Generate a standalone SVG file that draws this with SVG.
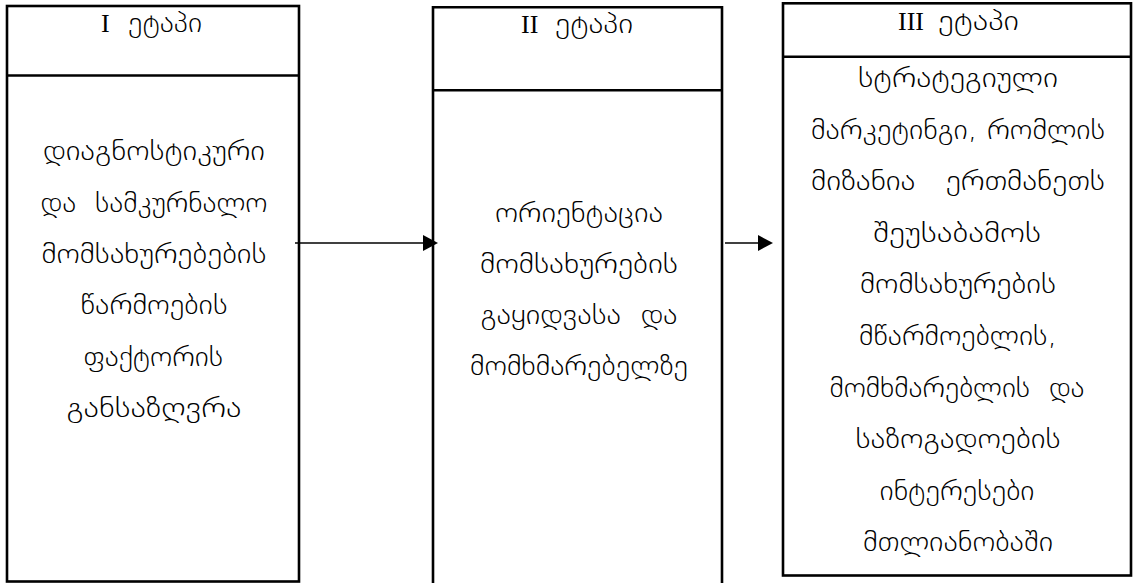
<svg xmlns="http://www.w3.org/2000/svg" width="1136" height="583" viewBox="0 0 1136 583">
<style>
.box{fill:none;stroke:#000;stroke-width:2.6}
.div{stroke:#000;stroke-width:2.6}
.t{font-family:"DejaVu Sans",sans-serif;font-size:28px;font-weight:200;fill:#000;text-anchor:middle}
.h{font-family:"DejaVu Sans",sans-serif;font-size:28px;font-weight:200;fill:#000}
.r{font-family:"Liberation Serif","Times New Roman",serif;font-size:26px;fill:#000}
.conn{stroke:#000;stroke-width:1.6;fill:none}
.head{fill:#000}
</style>
<rect width="1136" height="583" fill="#fff"/>
<g id="stage1">
<rect class="box" x="7" y="6" width="292" height="575.5"/>
<line class="div" x1="7" y1="75.5" x2="299" y2="75.5"/>
<text class="r" x="101" y="32">I</text>
<text class="h" x="128" y="32" textLength="74" lengthAdjust="spacingAndGlyphs">ეტაპი</text>
<text class="t" x="154" y="160" textLength="222" lengthAdjust="spacingAndGlyphs">დიაგნოსტიკური</text>
<text class="t" x="154" y="211.5" textLength="227" lengthAdjust="spacingAndGlyphs" xml:space="preserve">და  სამკურნალო</text>
<text class="t" x="154" y="263" textLength="225" lengthAdjust="spacingAndGlyphs">მომსახურებების</text>
<text class="t" x="154" y="314" textLength="147" lengthAdjust="spacingAndGlyphs">წარმოების</text>
<text class="t" x="153" y="365.5" textLength="140" lengthAdjust="spacingAndGlyphs">ფაქტორის</text>
<text class="t" x="154" y="417" textLength="175" lengthAdjust="spacingAndGlyphs">განსაზღვრა</text>
</g>
<g id="stage2">
<polyline class="box" points="433,590 433,7.3 722,7.3 722,590"/>
<line class="div" x1="433" y1="90.3" x2="722" y2="90.3"/>
<text class="r" x="521" y="33">II</text>
<text class="h" x="555" y="33" textLength="78" lengthAdjust="spacingAndGlyphs">ეტაპი</text>
<text class="t" x="579" y="222" textLength="168" lengthAdjust="spacingAndGlyphs">ორიენტაცია</text>
<text class="t" x="579" y="273" textLength="198" lengthAdjust="spacingAndGlyphs">მომსახურების</text>
<text class="t" x="579" y="324" textLength="197" lengthAdjust="spacingAndGlyphs" xml:space="preserve">გაყიდვასა  და</text>
<text class="t" x="579" y="375" textLength="218" lengthAdjust="spacingAndGlyphs">მომხმარებელზე</text>
</g>
<g id="stage3">
<rect class="box" x="783" y="3.3" width="348" height="572.2"/>
<line class="div" x1="783" y1="56.7" x2="1131" y2="56.7"/>
<text class="r" x="898" y="30">III</text>
<text class="h" x="938" y="30" textLength="81" lengthAdjust="spacingAndGlyphs">ეტაპი</text>
<text class="t" x="958" y="87" textLength="200" lengthAdjust="spacingAndGlyphs">სტრატეგიული</text>
<text class="t" x="958" y="138.5" textLength="294" lengthAdjust="spacingAndGlyphs">მარკეტინგი, რომლის</text>
<text class="t" x="958" y="190" textLength="294" lengthAdjust="spacingAndGlyphs" xml:space="preserve">მიზანია   ერთმანეთს</text>
<text class="t" x="957" y="242" textLength="168" lengthAdjust="spacingAndGlyphs">შეუსაბამოს</text>
<text class="t" x="958" y="293" textLength="196" lengthAdjust="spacingAndGlyphs">მომსახურების</text>
<text class="t" x="958" y="345" textLength="198" lengthAdjust="spacingAndGlyphs">მწარმოებლის,</text>
<text class="t" x="957" y="397" textLength="255" lengthAdjust="spacingAndGlyphs" xml:space="preserve">მომხმარებლის  და</text>
<text class="t" x="958" y="448" textLength="205" lengthAdjust="spacingAndGlyphs">საზოგადოების</text>
<text class="t" x="957" y="500" textLength="155" lengthAdjust="spacingAndGlyphs">ინტერესები</text>
<text class="t" x="958" y="551" textLength="190" lengthAdjust="spacingAndGlyphs">მთლიანობაში</text>
</g>
<g id="connectors">
<line class="conn" x1="295" y1="243" x2="424" y2="243"/>
<polygon class="head" points="423,235 438,243 423,251"/>
<line class="conn" x1="725" y1="243" x2="759" y2="243"/>
<polygon class="head" points="758,235 773,243 758,251"/>
</g>
</svg>
